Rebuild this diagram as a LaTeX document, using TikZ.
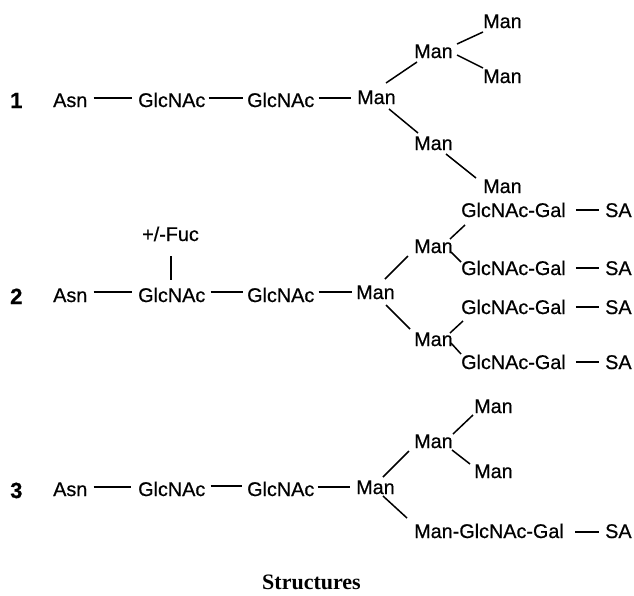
\documentclass[tikz,border=0pt]{standalone}
\usepackage{fontspec}
\setmainfont{Liberation Sans}[FakeBold=0.6]
\newfontfamily\sugfont{Liberation Sans}[FakeBold=0.6]
\newfontfamily\capfont{Liberation Serif}
\begin{document}
\begin{tikzpicture}[x=1pt,y=-1pt,
  sug/.style={inner sep=0pt, anchor=base west, font=\sugfont\fontsize{19.8}{22}\selectfont},
  num/.style={inner sep=0pt, anchor=base west, font=\fontsize{22}{24}\selectfont\bfseries},
  bond/.style={line width=1.5pt}]
\useasboundingbox (0,0) rectangle (634,595);
% ---------------- structure 1
\node[num] (n1) at (10,108) {1};
\node[sug] (asn1) at (53,107) {Asn};
\node[sug] (g1a) at (138,107) {GlcNAc};
\node[sug] (g1b) at (247,107) {GlcNAc};
\node[sug] (m1) at (357,104) {Man};
\node[sug] (m1u) at (414,58) {Man};
\node[sug] (m1uu) at (483,28) {Man};
\node[sug] (m1ud) at (483,83) {Man};
\node[sug] (m1l) at (414,150) {Man};
\node[sug] (m1ll) at (483,193) {Man};
\draw[bond] ([xshift=6pt,yshift=9pt]asn1.base east) -- ([xshift=-6pt,yshift=9pt]g1a.base west);
\draw[bond] ([xshift=3pt,yshift=9pt]g1a.base east) -- ([xshift=-4pt,yshift=9pt]g1b.base west);
\draw[bond] ([xshift=4pt,yshift=9pt]g1b.base east) -- ([xshift=-6pt,yshift=6pt]m1.base west);
\draw[bond] ([xshift=29pt,yshift=21pt]m1.base west) -- ([xshift=3pt,yshift=-4pt]m1u.base west);
\draw[bond] ([xshift=32pt,yshift=-5pt]m1.base west) -- ([xshift=4pt,yshift=17pt]m1l.base west);
\draw[bond] ([xshift=43pt,yshift=14pt]m1u.base west) -- ([xshift=0pt,yshift=-4pt]m1uu.base west);
\draw[bond] ([xshift=43pt,yshift=3pt]m1u.base west) -- ([xshift=0pt,yshift=15pt]m1ud.base west);
\draw[bond] ([xshift=32pt,yshift=-4pt]m1l.base west) -- ([xshift=-7pt,yshift=15pt]m1ll.base west);
% ---------------- structure 2
\node[num] (n2) at (10,304) {2};
\node[sug] (asn2) at (53,302) {Asn};
\node[sug] (g2a) at (138,302) {GlcNAc};
\node[sug] (fuc) at (142,241) {+/-Fuc};
\node[sug] (g2b) at (247,302) {GlcNAc};
\node[sug] (m2) at (356,299) {Man};
\node[sug] (m2u) at (414,253) {Man};
\node[sug] (m2l) at (414,346) {Man};
\node[sug] (gg1) at (461,217) {GlcNAc-Gal};
\node[sug] (gg2) at (461,275) {GlcNAc-Gal};
\node[sug] (gg3) at (461,314) {GlcNAc-Gal};
\node[sug] (gg4) at (461,369) {GlcNAc-Gal};
\node[sug] (sa1) at (605,217) {SA};
\node[sug] (sa2) at (605,275) {SA};
\node[sug] (sa3) at (605,314) {SA};
\node[sug] (sa4) at (605,369) {SA};
\draw[bond] ([xshift=6pt,yshift=10pt]asn2.base east) -- ([xshift=-6pt,yshift=10pt]g2a.base west);
\draw[bond] ([xshift=5pt,yshift=10pt]g2a.base east) -- ([xshift=-4pt,yshift=10pt]g2b.base west);
\draw[bond] ([xshift=4pt,yshift=10pt]g2b.base east) -- ([xshift=-4pt,yshift=7pt]m2.base west);
\draw[bond] ([xshift=29pt,yshift=-15pt]fuc.base west) -- ([xshift=33pt,yshift=22pt]g2a.base west);
\draw[bond] ([xshift=29pt,yshift=20pt]m2.base west) -- ([xshift=-6pt,yshift=-3pt]m2u.base west);
\draw[bond] ([xshift=30pt,yshift=-6pt]m2.base west) -- ([xshift=-4pt,yshift=17pt]m2l.base west);
\draw[bond] ([xshift=36pt,yshift=14pt]m2u.base west) -- ([xshift=4pt,yshift=-8pt]gg1.base west);
\draw[bond] ([xshift=37pt,yshift=1pt]m2u.base west) -- ([xshift=0pt,yshift=13pt]gg2.base west);
\draw[bond] ([xshift=36pt,yshift=13pt]m2l.base west) -- ([xshift=2pt,yshift=-7pt]gg3.base west);
\draw[bond] ([xshift=37pt,yshift=3pt]m2l.base west) -- ([xshift=0pt,yshift=15pt]gg4.base west);
\foreach \g/\s in {gg1/sa1,gg2/sa2,gg3/sa3,gg4/sa4}
  \draw[bond] ([xshift=10pt,yshift=7pt]\g.base east) -- ([xshift=-6pt,yshift=7pt]\s.base west);
% ---------------- structure 3
\node[num] (n3) at (10,498) {3};
\node[sug] (asn3) at (53,496) {Asn};
\node[sug] (g3a) at (138,496) {GlcNAc};
\node[sug] (g3b) at (247,496) {GlcNAc};
\node[sug] (m3) at (356,494) {Man};
\node[sug] (m3u) at (414,448) {Man};
\node[sug] (m3uu) at (474,413) {Man};
\node[sug] (m3ud) at (474,478) {Man};
\node[sug] (mgg) at (414,538) {Man-GlcNAc-Gal};
\node[sug] (sa5) at (605,538) {SA};
\draw[bond] ([xshift=6pt,yshift=9pt]asn3.base east) -- ([xshift=-7pt,yshift=9pt]g3a.base west);
\draw[bond] ([xshift=5pt,yshift=10pt]g3a.base east) -- ([xshift=-5pt,yshift=10pt]g3b.base west);
\draw[bond] ([xshift=3pt,yshift=9pt]g3b.base east) -- ([xshift=-6pt,yshift=7pt]m3.base west);
\draw[bond] ([xshift=27pt,yshift=17pt]m3.base west) -- ([xshift=-5pt,yshift=-3pt]m3u.base west);
\draw[bond] ([xshift=27pt,yshift=-2pt]m3.base west) -- ([xshift=-7pt,yshift=20pt]mgg.base west);
\draw[bond] ([xshift=39pt,yshift=14pt]m3u.base west) -- ([xshift=-1pt,yshift=-2pt]m3uu.base west);
\draw[bond] ([xshift=38pt,yshift=-2pt]m3u.base west) -- ([xshift=-4pt,yshift=14pt]m3ud.base west);
\draw[bond] ([xshift=11pt,yshift=6pt]mgg.base east) -- ([xshift=-6pt,yshift=6pt]sa5.base west);
% ---------------- caption
\node[inner sep=0pt, anchor=base, font=\capfont\bfseries\fontsize{22}{24}\selectfont] (cap) at (311.5,589) {Structures};
\end{tikzpicture}
\end{document}
